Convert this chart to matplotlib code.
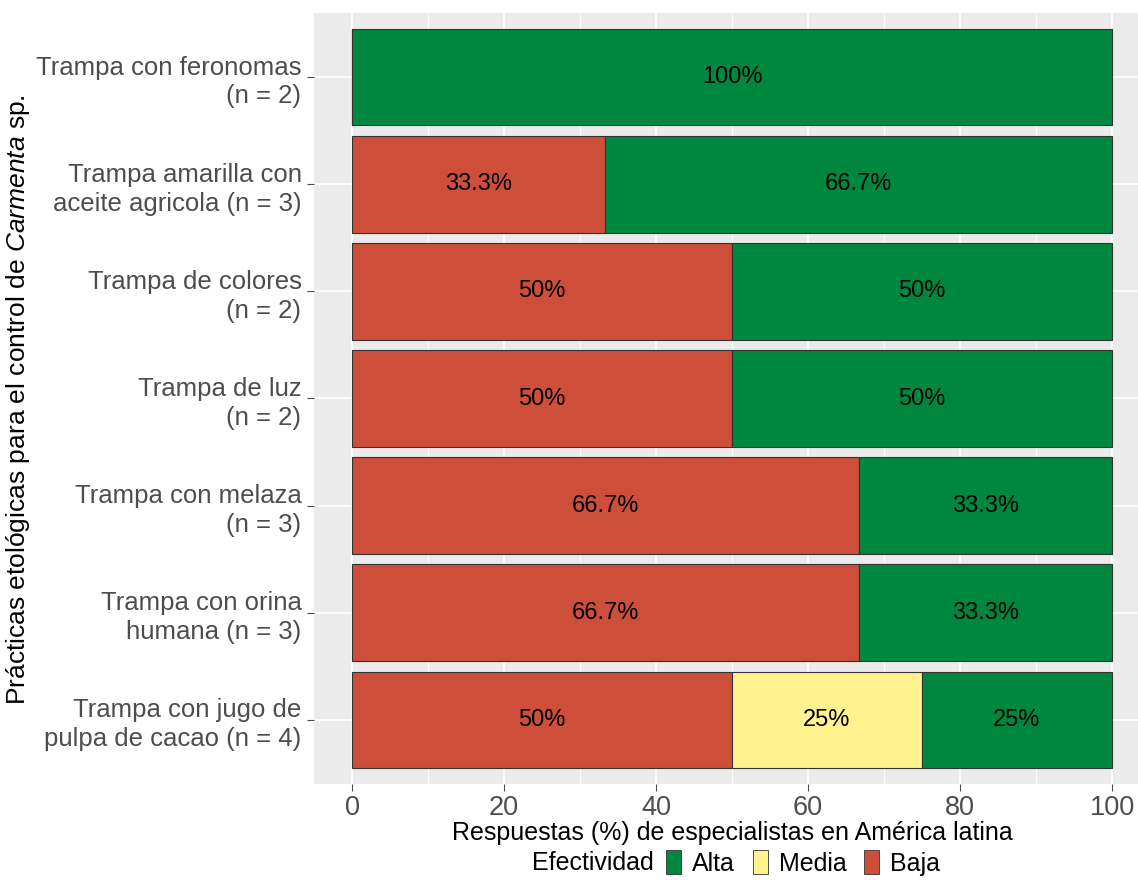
import matplotlib
matplotlib.use("Agg")
import matplotlib.pyplot as plt
from matplotlib.patches import Patch
import numpy as np

plt.rcParams['font.family'] = ['Liberation Sans', 'DejaVu Sans']
plt.rcParams['mathtext.fontset'] = 'custom'
plt.rcParams['mathtext.rm'] = 'Liberation Sans'
plt.rcParams['mathtext.it'] = 'Liberation Sans:italic'

categories = [
    "Trampa con feronomas\n(n = 2)",
    "Trampa amarilla con\naceite agricola (n = 3)",
    "Trampa de colores\n(n = 2)",
    "Trampa de luz\n(n = 2)",
    "Trampa con melaza\n(n = 3)",
    "Trampa con orina\nhumana (n = 3)",
    "Trampa con jugo de\npulpa de cacao (n = 4)",
]
baja = [0, 33.3, 50, 50, 66.7, 66.7, 50]
media = [0, 0, 0, 0, 0, 0, 25]
alta = [100, 66.7, 50, 50, 33.3, 33.3, 25]
xticks = [0, 20, 40, 60, 80, 100]
legend_labels = ["Alta", "Media", "Baja"]

colors = {"Alta": "#00873F", "Media": "#FFF38F", "Baja": "#CD4F39"}

W, H = 1138, 880
fig = plt.figure(figsize=(W / 100, H / 100), dpi=100)
ax = fig.add_axes([314 / W, (H - 784) / H, (1150 - 314) / W, (784 - 13) / H])
ax.set_facecolor("#EBEBEB")

n = len(categories)
y = np.arange(n)[::-1]
left = np.zeros(n)
for name, vals in [("Baja", baja), ("Media", media), ("Alta", alta)]:
    vals = np.array(vals)
    ax.barh(y, vals, left=left, height=0.9, color=colors[name],
            edgecolor="#333333", linewidth=0.8, zorder=3)
    for yi, l, v in zip(y, left, vals):
        if v > 0:
            lab = f"{v:g}%"
            ax.text(l + v / 2, yi, lab, ha="center", va="center",
                    fontsize=17, color="black", zorder=4)
    left = left + vals

ax.set_xlim(-5, 105)
ax.set_ylim(-0.6, n - 0.4)
ax.set_xticks(xticks)
ax.set_xticks([10, 30, 50, 70, 90], minor=True)
ax.set_yticks(y)
ax.set_yticklabels(categories)
ax.grid(True, which="major", color="white", linewidth=1.2, zorder=0)
ax.grid(True, which="minor", axis="x", color="white", linewidth=0.6, zorder=0)
ax.set_axisbelow(True)
for s in ax.spines.values():
    s.set_visible(False)
ax.tick_params(axis="y", which="major", colors="#4D4D4D", labelsize=18.5,
               length=5, width=0.8, pad=4)
ax.tick_params(axis="x", which="major", colors="#4D4D4D", labelsize=19.5,
               length=5, width=0.8, pad=3)
ax.tick_params(axis="x", which="minor", length=0)
for t in ax.get_yticklabels():
    t.set_ha("right")
    t.set_multialignment("right")
    t.set_linespacing(1.25)

ax.set_xlabel("Respuestas (%) de especialistas en América latina",
              fontsize=18, color="black", labelpad=0)
fig.text(18 / W, 1 - 400 / H, "Prácticas etológicas para el control de $\\it{Carmenta}$ sp.",
         rotation=90, ha="center", va="center", fontsize=19, color="black")

handles = [Patch(facecolor=colors[k], edgecolor="#333333", linewidth=0.6) for k in legend_labels]
leg = fig.legend(handles, legend_labels, loc="center left",
                 bbox_to_anchor=(666 / W, 1 - 863 / H), ncol=3, frameon=False,
                 fontsize=18, handlelength=0.6, handleheight=1.05,
                 handletextpad=0.45, columnspacing=0.7, borderpad=0, borderaxespad=0)
fig.text(654 / W, 1 - 863 / H, "Efectividad", ha="right", va="center",
         fontsize=18, color="black")

fig.savefig("out.png", dpi=100)
